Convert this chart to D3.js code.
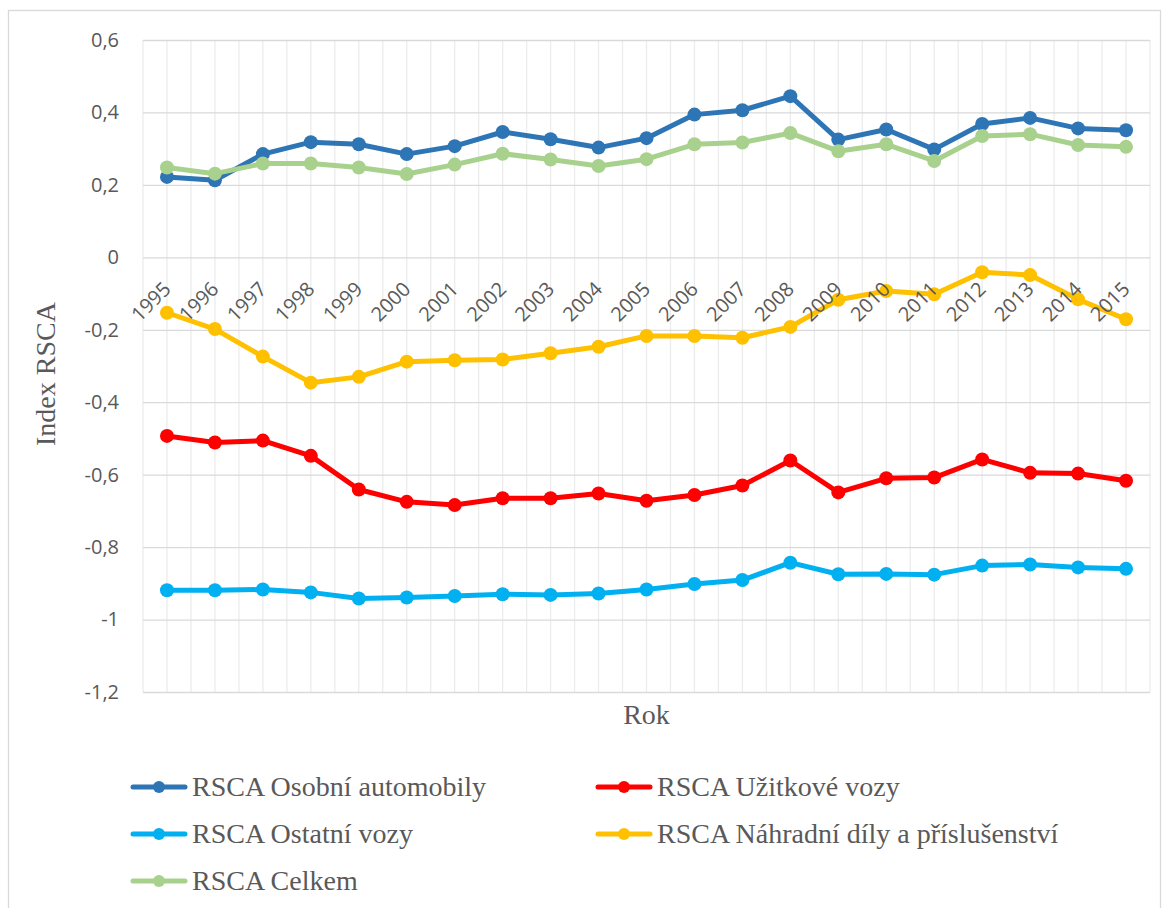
<!DOCTYPE html>
<html>
<head>
<meta charset="utf-8">
<script src="https://cdn.jsdelivr.net/npm/d3@7"></script>
<style>
  html, body { margin: 0; padding: 0; background: #fff; }
  svg { display: block; }
</style>
</head>
<body>
<svg id="chart" width="1169" height="908"></svg>
<script>
// Years on the category axis
const years = ["1995","1996","1997","1998","1999","2000","2001","2002","2003","2004",
               "2005","2006","2007","2008","2009","2010","2011","2012","2013","2014","2015"];

// RSCA index per product group
const osobniAutomobily = [0.222, 0.213, 0.285, 0.318, 0.312, 0.285, 0.307, 0.346, 0.326, 0.303,
                          0.329, 0.394, 0.406, 0.445, 0.325, 0.353, 0.298, 0.368, 0.385, 0.356, 0.351];
const uzitkoveVozy     = [-0.493, -0.511, -0.506, -0.548, -0.641, -0.675, -0.684, -0.665, -0.665, -0.652,
                          -0.672, -0.656, -0.630, -0.561, -0.649, -0.610, -0.608, -0.558, -0.595, -0.597, -0.617];
const ostatniVozy      = [-0.919, -0.919, -0.917, -0.925, -0.942, -0.939, -0.935, -0.930, -0.932, -0.928,
                          -0.917, -0.902, -0.891, -0.843, -0.875, -0.874, -0.876, -0.851, -0.848, -0.856, -0.860];
const nahradniDily     = [-0.153, -0.198, -0.274, -0.346, -0.330, -0.288, -0.284, -0.282, -0.265, -0.247,
                          -0.217, -0.217, -0.222, -0.192, -0.117, -0.093, -0.102, -0.041, -0.049, -0.116, -0.171];
const celkem           = [0.248, 0.231, 0.259, 0.259, 0.248, 0.230, 0.256, 0.286, 0.270, 0.252,
                          0.271, 0.312, 0.317, 0.343, 0.293, 0.312, 0.266, 0.335, 0.340, 0.310, 0.305];

const seriesNames  = ["RSCA Osobní automobily", "RSCA Užitkové vozy", "RSCA Ostatní vozy",
                      "RSCA Náhradní díly a příslušenství", "RSCA Celkem"];
const seriesColors = ["#2E75B6", "#FF0000", "#00B0F0", "#FFC000", "#A9D18E"];
const seriesValues = [osobniAutomobily, uzitkoveVozy, ostatniVozy, nahradniDily, celkem];

const yTicks = [0.6, 0.4, 0.2, 0, -0.2, -0.4, -0.6, -0.8, -1, -1.2];

const series = seriesNames.map((name, i) => ({
  name, color: seriesColors[i],
  points: years.map((y, j) => ({ year: y, value: seriesValues[i][j] }))
}));

const svg = d3.select("#chart");
const plot = { left: 143, right: 1150, top: 40, bottom: 692 };

// outer chart frame
svg.append("rect")
  .attr("x", 8.5).attr("y", 10.5).attr("width", 1152).attr("height", 920)
  .attr("fill", "none").attr("stroke", "#d9d9d9").attr("stroke-width", 1.3);

const x = d3.scaleBand().domain(years).range([plot.left, plot.right]).paddingInner(0).paddingOuter(0);
const y = d3.scaleLinear().domain([-1.2, 0.6]).range([plot.bottom, plot.top]);
const cx = d => x(d) + x.bandwidth() / 2;

const fmt = v => (v === 0 ? "0" : String(+v.toFixed(1)).replace(".", ","));

// vertical gridlines: category centres and category boundaries
const vLines = [];
years.forEach(d => { vLines.push(x(d)); vLines.push(cx(d)); });
vLines.push(plot.right);
svg.append("g").selectAll("line").data(vLines).join("line")
  .attr("x1", d => d).attr("x2", d => d)
  .attr("y1", plot.top).attr("y2", plot.bottom)
  .attr("stroke", "#ececec").attr("stroke-width", 1.3);

// horizontal gridlines and value axis
const yAxis = d3.axisLeft(y).tickValues(yTicks).tickFormat(fmt)
  .tickSize(-(plot.right - plot.left)).tickPadding(24);
const yg = svg.append("g").attr("transform", `translate(${plot.left},0)`).call(yAxis);
yg.select(".domain").remove();
yg.selectAll(".tick line").attr("stroke", "#d9d9d9").attr("stroke-width", 1.3);
yg.selectAll(".tick text")
  .attr("fill", "#595959")
  .style("font-family", "'Open Sans', sans-serif")
  .style("font-size", "20px");

// series lines and markers
const line = d3.line().x(d => cx(d.year)).y(d => y(d.value));
const sg = svg.append("g").selectAll("g").data(series).join("g");
sg.append("path")
  .attr("d", d => line(d.points))
  .attr("fill", "none")
  .attr("stroke", d => d.color)
  .attr("stroke-width", 5)
  .attr("stroke-linejoin", "round")
  .attr("stroke-linecap", "round");
sg.selectAll("circle").data(d => d.points.map(p => ({ ...p, color: d.color }))).join("circle")
  .attr("cx", d => cx(d.year)).attr("cy", d => y(d.value))
  .attr("r", 7).attr("fill", d => d.color);

// category labels, rotated, hanging from the zero line (drawn over the series)
svg.append("g").selectAll("text").data(years).join("text")
  .attr("transform", d => `translate(${cx(d) + 5},${y(0) + 33}) rotate(-45)`)
  .attr("text-anchor", "end")
  .attr("fill", "#595959")
  .style("font-family", "'Open Sans', sans-serif")
  .style("font-size", "20px")
  .text(d => d);

// axis titles
svg.append("text")
  .attr("transform", `translate(55,374) rotate(-90)`)
  .attr("text-anchor", "middle")
  .attr("fill", "#595959")
  .style("font-family", "'Liberation Serif', 'Times New Roman', serif")
  .style("font-size", "28px")
  .text("Index RSCA");

svg.append("text")
  .attr("x", (plot.left + plot.right) / 2).attr("y", 724)
  .attr("text-anchor", "middle")
  .attr("fill", "#595959")
  .style("font-family", "'Liberation Serif', 'Times New Roman', serif")
  .style("font-size", "28px")
  .text("Rok");

// legend
const legendPos = [
  { x: 133, y: 787 }, { x: 598, y: 787 },
  { x: 133, y: 834 }, { x: 598, y: 834 },
  { x: 133, y: 881 }
];
const lg = svg.append("g").selectAll("g").data(series).join("g")
  .attr("transform", (d, i) => `translate(${legendPos[i].x},${legendPos[i].y})`);
lg.append("line")
  .attr("x1", 0).attr("x2", 52).attr("y1", 0).attr("y2", 0)
  .attr("stroke", d => d.color).attr("stroke-width", 5).attr("stroke-linecap", "round");
lg.append("circle").attr("cx", 26).attr("cy", 0).attr("r", 6).attr("fill", d => d.color);
lg.append("text")
  .attr("x", 59).attr("y", 9)
  .attr("fill", "#595959")
  .style("font-family", "'Liberation Serif', 'Times New Roman', serif")
  .style("font-size", "28px")
  .text(d => d.name);
</script>
</body>
</html>
